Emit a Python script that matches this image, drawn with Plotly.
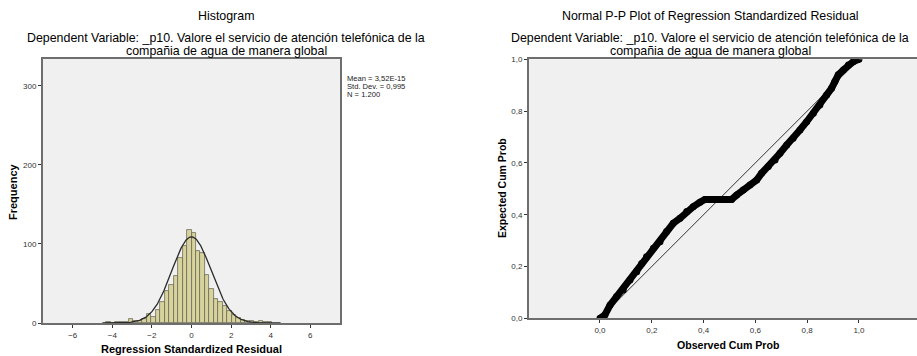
import numpy as np
import plotly.graph_objects as go

# ---------------- data ----------------
# Histogram: bin index k -> bin covers [k*bin_width, (k+1)*bin_width]
bin_index = [-19, -17, -16, -15, -14, -13, -12, -11, -10, -9, -8, -7, -6, -5, -4, -3, -2, -1,
             0, 1, 2, 3, 4, 5, 6, 7, 8, 9, 10, 11, 12, 13, 14, 15, 16, 17]
bin_counts = [1, 1, 1, 1, 5, 2, 2, 5, 12, 8, 17, 27, 41, 48, 59, 82, 97, 118,
              114, 91, 88, 61, 43, 30, 26, 21, 15, 10, 6, 4, 2, 2, 1, 3, 1, 1]
bin_width = 0.2265

stat_mean = 3.52e-15
stat_sd = 0.995
stat_n = 1200
stats_lines = ["Mean = 3,52E-15", "Std. Dev. = 0,995", "N = 1.200"]

hist_xticks = [-6, -4, -2, 0, 2, 4, 6]
hist_yticks = [0, 100, 200, 300]

# P-P plot
pp_observed = [0.0, 0.019, 0.039, 0.064, 0.090, 0.116, 0.142, 0.161, 0.180, 0.206, 0.232, 0.257,
               0.283, 0.309, 0.335, 0.360, 0.386, 0.405, 0.438, 0.476, 0.508, 0.528, 0.553,
               0.579, 0.605, 0.624, 0.650, 0.676, 0.695, 0.721, 0.746, 0.772, 0.798, 0.824,
               0.849, 0.875, 0.894, 0.907, 0.920, 0.940, 0.959, 0.978, 1.0]
pp_expected = [0.0, 0.013, 0.051, 0.084, 0.109, 0.148, 0.180, 0.212, 0.238, 0.270, 0.296, 0.335,
               0.367, 0.386, 0.412, 0.431, 0.448, 0.459, 0.459, 0.459, 0.459, 0.476, 0.495,
               0.515, 0.534, 0.560, 0.586, 0.611, 0.637, 0.669, 0.695, 0.727, 0.759, 0.792,
               0.824, 0.862, 0.888, 0.914, 0.940, 0.959, 0.978, 0.991, 1.0]
pp_ticks = [0.0, 0.2, 0.4, 0.6, 0.8, 1.0]

title_left = "Histogram"
title_right = "Normal P-P Plot of Regression Standardized Residual"
subtitle_lines = ["Dependent Variable: _p10. Valore el servicio de atención telefónica de la",
                  "compañia de agua de manera global"]

# ---------------- figure ----------------
W, H = 917, 356
FONT = "Liberation Sans, Arial, sans-serif"
FRAME = "#6e6e6e"
BG = "#F0F0F0"

fig = go.Figure()

bin_centers = [(k + 0.5) * bin_width for k in bin_index]
fig.add_trace(go.Bar(
    x=bin_centers, y=bin_counts, width=bin_width,
    marker=dict(color="#D8D39D", line=dict(color="#6b6a58", width=0.8)),
    xaxis="x", yaxis="y", showlegend=False,
))

# normal curve from the stated mean / sd / N
cx = np.linspace(-4.5, 4.5, 300)
cy = stat_n * bin_width * np.exp(-0.5 * ((cx - stat_mean) / stat_sd) ** 2) / (stat_sd * np.sqrt(2 * np.pi))
fig.add_trace(go.Scatter(x=cx, y=cy, mode="lines", line=dict(color="#2a2a2a", width=1.3),
                         xaxis="x", yaxis="y", showlegend=False, hoverinfo="skip"))

# P-P plot: diagonal reference line then observed points
fig.add_trace(go.Scatter(x=[pp_ticks[0], pp_ticks[-1]], y=[pp_ticks[0], pp_ticks[-1]], mode="lines",
                         line=dict(color="#333333", width=1), xaxis="x2", yaxis="y2", showlegend=False))
fig.add_trace(go.Scatter(x=pp_observed, y=pp_expected, mode="lines+markers",
                         line=dict(color="black", width=7), marker=dict(color="black", size=7),
                         xaxis="x2", yaxis="y2", showlegend=False))

tickfont = dict(family=FONT, size=8, color="#333333")
axis_common = dict(showgrid=False, zeroline=False, showline=True, linecolor=FRAME, linewidth=2,
                   ticks="outside", ticklen=3, tickcolor="#333333", tickwidth=1, tickfont=tickfont,
                   automargin=False)

fig.update_layout(
    width=W, height=H,
    margin=dict(l=0, r=0, t=0, b=0, autoexpand=False),
    paper_bgcolor="white",
    plot_bgcolor=BG,
    separators=",.",
    bargap=0,
    xaxis=dict(domain=[43 / W, 340 / W], range=[-7.5, 7.5], tickvals=hist_xticks, mirror=True,
               anchor="y", **axis_common),
    yaxis=dict(domain=[1 - 323 / H, 1 - 59 / H], range=[0, 334], tickvals=hist_yticks, mirror=True,
               anchor="x", **axis_common),
    xaxis2=dict(domain=[529 / W, 1.0], range=[-0.274, 1.224], tickvals=pp_ticks, tickformat=".1f",
                mirror=True, anchor="y2", **axis_common),
    yaxis2=dict(domain=[1 - 318.3 / H, 1 - 59.3 / H], range=[0, 1.0], tickvals=pp_ticks, tickformat=".1f",
                anchor="x2", **axis_common),
)

anns = []
def txt(x, y, s, size=11, bold=False, angle=0, xanchor="center", yanchor="middle", color="black"):
    if bold:
        s = "<b>" + s + "</b>"
    anns.append(dict(x=x / W, y=1 - y / H, xref="paper", yref="paper", text=s, showarrow=False,
                     font=dict(family=FONT, size=size, color=color), textangle=angle,
                     xanchor=xanchor, yanchor=yanchor))

txt(226, 16, title_left, size=12.4)
txt(710, 16, title_right, size=12.4)
for cxp in (226, 710):
    txt(cxp, 38.5, subtitle_lines[0], size=12.4)
    txt(cxp, 50.5, subtitle_lines[1], size=12.4)

txt(191, 349, "Regression Standardized Residual", size=11, bold=True)
txt(13, 192, "Frequency", size=11, bold=True, angle=-90)
txt(728, 345, "Observed Cum Prob", size=10.6, bold=True)
txt(502, 188, "Expected Cum Prob", size=10.5, bold=True, angle=-90)

for i, line in enumerate(stats_lines):
    txt(345, 78 + 8.5 * i, line, size=7.6, xanchor="left", color="#222222")

fig.update_layout(annotations=anns)
fig.write_html("out.html", config={"displayModeBar": False},
               post_script="document.body.style.margin='0';document.body.style.overflow='hidden';")
